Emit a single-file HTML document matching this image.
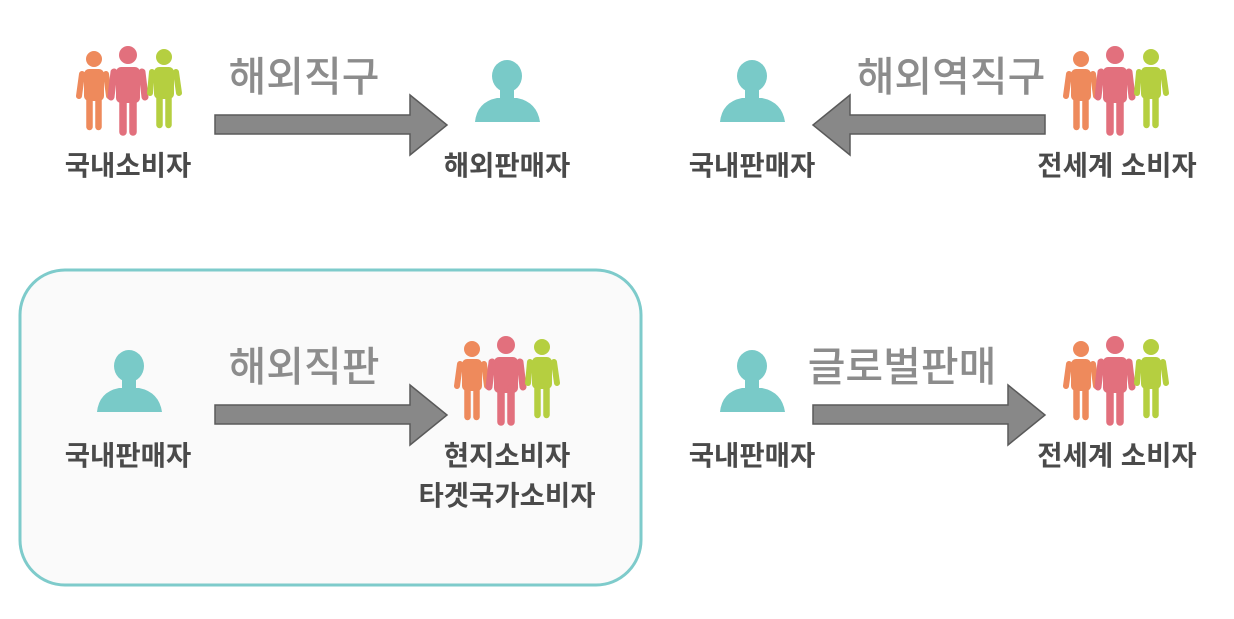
<!DOCTYPE html>
<html><head><meta charset="utf-8"><style>
body{margin:0;background:#fff}
svg text{font-family:"Liberation Sans","Noto Sans CJK KR",sans-serif}
.l{font-size:27.5px;font-weight:bold;fill:#4a4a4a;text-anchor:middle}
.t{font-size:41px;font-weight:500;fill:#8c8c8c;text-anchor:middle}
</style></head><body>
<svg width="1234" height="614" viewBox="0 0 1234 614" xmlns="http://www.w3.org/2000/svg">
<defs>
<g id="grp">
 <g fill="#ee8a5c" stroke="#ee8a5c" stroke-linecap="round">
  <circle cx="94" cy="59" r="8" stroke="none"/>
  <rect x="84" y="69" width="20" height="32" rx="5" stroke="none"/>
  <line x1="82" y1="74" x2="79" y2="96" stroke-width="6"/>
  <line x1="106" y1="74" x2="109" y2="96" stroke-width="6"/>
  <line x1="89.5" y1="95" x2="89.5" y2="127" stroke-width="6.5"/>
  <line x1="98.5" y1="95" x2="98.5" y2="127" stroke-width="6.5"/>
 </g>
 <g fill="#e2707d" stroke="#e2707d" stroke-linecap="round">
  <circle cx="128" cy="55" r="9" stroke="none"/>
  <rect x="116" y="67" width="24" height="36" rx="5" stroke="none"/>
  <line x1="114" y1="72" x2="111" y2="97" stroke-width="7"/>
  <line x1="142" y1="72" x2="145" y2="97" stroke-width="7"/>
  <line x1="123" y1="98" x2="123" y2="132" stroke-width="7.5"/>
  <line x1="133" y1="98" x2="133" y2="132" stroke-width="7.5"/>
 </g>
 <g fill="#b5cf40" stroke="#b5cf40" stroke-linecap="round">
  <circle cx="164" cy="57" r="8" stroke="none"/>
  <rect x="154" y="67" width="20" height="32" rx="5" stroke="none"/>
  <line x1="152" y1="72" x2="150" y2="93" stroke-width="6"/>
  <line x1="176" y1="72" x2="179" y2="93" stroke-width="6"/>
  <line x1="159.5" y1="94" x2="159.5" y2="125" stroke-width="6.5"/>
  <line x1="168.5" y1="94" x2="168.5" y2="125" stroke-width="6.5"/>
 </g>
</g>
<g id="per" fill="#79cac8">
 <ellipse cx="0" cy="0" rx="15" ry="16"/>
 <rect x="-7" y="10" width="14" height="14"/>
 <path d="M-32,46 Q-30,26 -10,22 L10,22 Q30,26 33,46 Z"/>
</g>
<path id="ar" d="M215,115 L410,115 L410,95 L447,125 L410,155 L410,134 L215,134 Z" fill="#888" stroke="#5a5a5a" stroke-width="1.5"/>
</defs>

<use href="#grp"/>
<text class="l" x="128" y="175">국내소비자</text>
<use href="#ar"/>
<text class="t" x="304" y="91">해외직구</text>
<use href="#per" x="507" y="76"/>
<text class="l" x="507" y="175">해외판매자</text>

<use href="#per" x="752" y="76"/>
<text class="l" x="752" y="175">국내판매자</text>
<use href="#ar" transform="translate(1260,0) scale(-1,1)"/>
<text class="t" x="951" y="91">해외역직구</text>
<use href="#grp" x="987"/>
<text class="l" x="1117" y="175">전세계 소비자</text>

<rect x="20" y="270" width="621" height="315" rx="45" fill="#fafafa" stroke="#7ecbcb" stroke-width="3"/>
<use href="#per" x="129" y="366"/>
<text class="l" x="128" y="465">국내판매자</text>
<use href="#ar" y="290"/>
<text class="t" x="304" y="381">해외직판</text>
<use href="#grp" x="378" y="290"/>
<text class="l" x="507" y="465">현지소비자</text>
<text class="l" x="507" y="505">타겟국가소비자</text>

<use href="#per" x="752" y="366"/>
<text class="l" x="752" y="465">국내판매자</text>
<use href="#ar" x="598" y="290"/>
<text class="t" x="902" y="381">글로벌판매</text>
<use href="#grp" x="987" y="290"/>
<text class="l" x="1117" y="465">전세계 소비자</text>
</svg>
</body></html>
